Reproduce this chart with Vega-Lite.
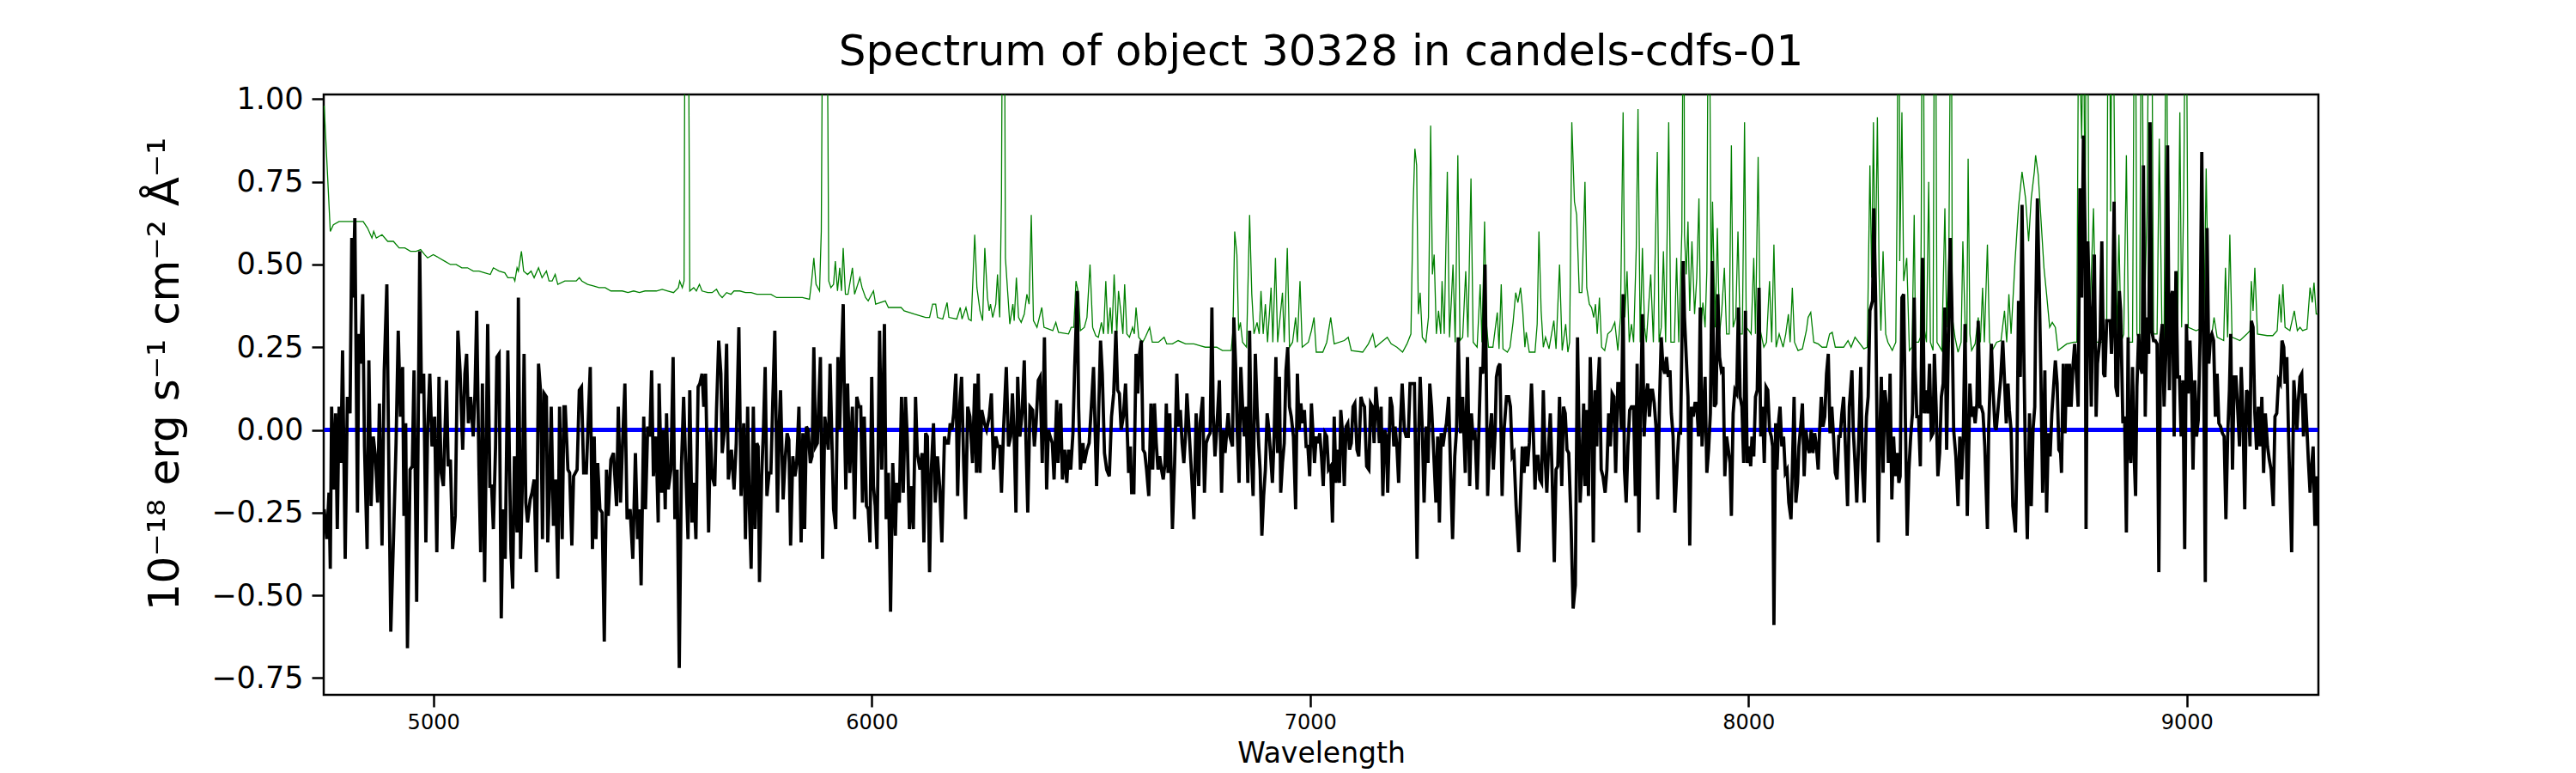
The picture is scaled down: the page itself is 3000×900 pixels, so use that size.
{
"$schema":"https://vega.github.io/schema/vega-lite/v6.json",
"width":2323,"height":699,
"autosize":{"type":"none"},
"padding":{"left":377,"top":110,"right":300,"bottom":91},
"background":"white",
"config":{"view":{"stroke":"black","strokeWidth":2.5},"font":"DejaVu Sans",
"axis":{"domain":false,"grid":false,"tickColor":"black","labelColor":"black","titleColor":"black","tickWidth":2.5,"tickSize":14,"labelFont":"DejaVu Sans","titleFont":"DejaVu Sans","titleFontWeight":"normal"}},
"title":{"text":"Spectrum of object 30328 in candels-cdfs-01","fontSize":50,"fontWeight":"normal","font":"DejaVu Sans","color":"black","offset":12},
"encoding":{
"x":{"field":"w","type":"quantitative","scale":{"domain":[4750,9300],"nice":false,"zero":false},"axis":{"values":[5000,6000,7000,8000,9000],"format":"d","labelFontSize":24,"labelPadding":6,"title":"Wavelength","titleFontSize":33,"titlePadding":8}},
"y":{"field":"f","type":"quantitative","scale":{"domain":[-0.801,1.014],"nice":false,"zero":false},"axis":{"values":[-0.75,-0.5,-0.25,0,0.25,0.5,0.75,1.0],"format":".2f","labelFontSize":35,"labelPadding":10,"title":"10⁻¹⁸ erg s⁻¹ cm⁻² Å⁻¹","titleFontSize":50,"titlePadding":28,"titleY":325}}
},
"datasets":{
"model":[{"w":4751,"f":0},{"w":9299,"f":0}],
"err":[
{"w":4751,"f":0.98},{"w":4765,"f":0.60},{"w":4772,"f":0.62},{"w":4785,"f":0.63},{"w":4804,"f":0.63},{"w":4824,"f":0.63},{"w":4840,"f":0.63},{"w":4850,"f":0.61},{"w":4860,"f":0.58},{"w":4864,"f":0.60},{"w":4870,"f":0.58},{"w":4883,"f":0.59},{"w":4896,"f":0.57},{"w":4909,"f":0.57},{"w":4922,"f":0.55},{"w":4935,"f":0.55},{"w":4948,"f":0.54},{"w":4961,"f":0.54},{"w":4971,"f":0.545},{"w":4980,"f":0.53},{"w":4987,"f":0.52},{"w":5000,"f":0.53},{"w":5013,"f":0.52},{"w":5026,"f":0.51},{"w":5039,"f":0.50},{"w":5052,"f":0.50},{"w":5065,"f":0.49},{"w":5078,"f":0.49},{"w":5091,"f":0.48},{"w":5104,"f":0.48},{"w":5117,"f":0.475},{"w":5130,"f":0.47},{"w":5137,"f":0.49},{"w":5150,"f":0.48},{"w":5163,"f":0.475},{"w":5170,"f":0.46},{"w":5183,"f":0.46},{"w":5186,"f":0.45},{"w":5191,"f":0.49},{"w":5194,"f":0.48},{"w":5201,"f":0.54},{"w":5206,"f":0.48},{"w":5215,"f":0.47},{"w":5223,"f":0.48},{"w":5230,"f":0.46},{"w":5240,"f":0.49},{"w":5248,"f":0.46},{"w":5258,"f":0.48},{"w":5264,"f":0.45},{"w":5271,"f":0.45},{"w":5278,"f":0.47},{"w":5284,"f":0.44},{"w":5300,"f":0.45},{"w":5313,"f":0.45},{"w":5326,"f":0.45},{"w":5333,"f":0.46},{"w":5339,"f":0.45},{"w":5352,"f":0.44},{"w":5365,"f":0.435},{"w":5378,"f":0.43},{"w":5392,"f":0.43},{"w":5405,"f":0.42},{"w":5431,"f":0.42},{"w":5444,"f":0.415},{"w":5457,"f":0.42},{"w":5470,"f":0.415},{"w":5483,"f":0.42},{"w":5496,"f":0.42},{"w":5509,"f":0.42},{"w":5522,"f":0.425},{"w":5535,"f":0.42},{"w":5548,"f":0.415},{"w":5559,"f":0.43},{"w":5562,"f":0.45},{"w":5568,"f":0.43},{"w":5572,"f":0.45},{"w":5574,"f":1.3},{"w":5582,"f":1.3},{"w":5585,"f":0.42},{"w":5594,"f":0.43},{"w":5600,"f":0.42},{"w":5607,"f":0.44},{"w":5613,"f":0.42},{"w":5626,"f":0.415},{"w":5636,"f":0.415},{"w":5646,"f":0.425},{"w":5652,"f":0.41},{"w":5659,"f":0.40},{"w":5669,"f":0.415},{"w":5679,"f":0.41},
{"w":5686,"f":0.42},{"w":5699,"f":0.42},{"w":5712,"f":0.415},{"w":5725,"f":0.415},{"w":5738,"f":0.41},{"w":5751,"f":0.41},{"w":5770,"f":0.41},{"w":5783,"f":0.40},{"w":5803,"f":0.40},{"w":5823,"f":0.40},{"w":5842,"f":0.40},{"w":5858,"f":0.395},{"w":5863,"f":0.45},{"w":5868,"f":0.52},{"w":5873,"f":0.44},{"w":5881,"f":0.42},{"w":5885,"f":0.6},{"w":5888,"f":1.3},{"w":5898,"f":1.3},{"w":5900,"f":0.95},{"w":5902,"f":0.45},{"w":5907,"f":0.43},{"w":5913,"f":0.44},{"w":5917,"f":0.51},{"w":5922,"f":0.42},{"w":5927,"f":0.49},{"w":5931,"f":0.42},{"w":5935,"f":0.55},{"w":5940,"f":0.41},{"w":5946,"f":0.41},{"w":5956,"f":0.49},{"w":5961,"f":0.41},{"w":5973,"f":0.46},{"w":5978,"f":0.43},{"w":5986,"f":0.40},{"w":5992,"f":0.39},{"w":6004,"f":0.42},{"w":6009,"f":0.38},{"w":6031,"f":0.39},{"w":6038,"f":0.37},{"w":6057,"f":0.37},{"w":6067,"f":0.37},{"w":6074,"f":0.36},{"w":6097,"f":0.35},{"w":6123,"f":0.34},{"w":6132,"f":0.34},{"w":6139,"f":0.38},{"w":6146,"f":0.38},{"w":6150,"f":0.34},{"w":6162,"f":0.335},{"w":6172,"f":0.385},{"w":6176,"f":0.34},{"w":6194,"f":0.335},{"w":6202,"f":0.37},{"w":6206,"f":0.335},{"w":6215,"f":0.37},{"w":6221,"f":0.335},{"w":6227,"f":0.33},{"w":6235,"f":0.59},{"w":6240,"f":0.43},{"w":6247,"f":0.36},{"w":6253,"f":0.33},{"w":6258,"f":0.55},{"w":6264,"f":0.40},{"w":6268,"f":0.36},{"w":6271,"f":0.38},{"w":6276,"f":0.34},{"w":6283,"f":0.38},{"w":6287,"f":0.47},{"w":6292,"f":0.34},{"w":6296,"f":0.7},{"w":6298,"f":1.3},{"w":6303,"f":1.3},{"w":6305,"f":0.52},{"w":6311,"f":0.40},{"w":6315,"f":0.32},{"w":6322,"f":0.38},{"w":6325,"f":0.33},{"w":6330,"f":0.46},{"w":6335,"f":0.34},{"w":6341,"f":0.325},{"w":6348,"f":0.35},{"w":6354,"f":0.41},{"w":6359,"f":0.38},{"w":6364,"f":0.65},{"w":6369,"f":0.33},{"w":6377,"f":0.31},{"w":6388,"f":0.37},{"w":6393,"f":0.31},{"w":6413,"f":0.30},{"w":6420,"f":0.325},{"w":6426,"f":0.295},{"w":6449,"f":0.29},{"w":6455,"f":0.31},{"w":6461,"f":0.31},{"w":6466,"f":0.45},{"w":6472,"f":0.41},{"w":6476,"f":0.30},{"w":6485,"f":0.31},{"w":6491,"f":0.34},{"w":6498,"f":0.50},{"w":6504,"f":0.31},{"w":6511,"f":0.285},{"w":6517,"f":0.28},{"w":6524,"f":0.325},{"w":6529,"f":0.29},{"w":6534,"f":0.45},{"w":6539,"f":0.29},{"w":6544,"f":0.37},{"w":6548,"f":0.29},{"w":6553,"f":0.47},{"w":6559,"f":0.29},{"w":6563,"f":0.42},{"w":6568,"f":0.36},{"w":6573,"f":0.29},{"w":6577,"f":0.44},
{"w":6582,"f":0.29},{"w":6588,"f":0.28},{"w":6595,"f":0.31},{"w":6599,"f":0.29},{"w":6603,"f":0.37},{"w":6609,"f":0.28},{"w":6618,"f":0.265},{"w":6624,"f":0.28},{"w":6634,"f":0.31},{"w":6640,"f":0.265},{"w":6654,"f":0.265},{"w":6667,"f":0.28},{"w":6673,"f":0.26},{"w":6686,"f":0.26},{"w":6699,"f":0.27},{"w":6716,"f":0.26},{"w":6735,"f":0.26},{"w":6748,"f":0.255},{"w":6761,"f":0.25},{"w":6787,"f":0.25},{"w":6800,"f":0.24},{"w":6820,"f":0.24},{"w":6824,"f":0.3},{"w":6828,"f":0.60},{"w":6833,"f":0.53},{"w":6837,"f":0.30},{"w":6841,"f":0.325},{"w":6846,"f":0.265},{"w":6855,"f":0.25},{"w":6862,"f":0.65},{"w":6867,"f":0.41},{"w":6872,"f":0.29},{"w":6879,"f":0.325},{"w":6884,"f":0.29},{"w":6888,"f":0.42},{"w":6893,"f":0.29},{"w":6898,"f":0.38},{"w":6903,"f":0.265},{"w":6911,"f":0.43},{"w":6915,"f":0.265},{"w":6921,"f":0.52},{"w":6926,"f":0.265},{"w":6937,"f":0.415},{"w":6941,"f":0.265},{"w":6948,"f":0.55},{"w":6953,"f":0.25},{"w":6960,"f":0.265},{"w":6967,"f":0.34},{"w":6971,"f":0.265},{"w":6977,"f":0.45},{"w":6982,"f":0.25},{"w":6996,"f":0.265},{"w":7003,"f":0.30},{"w":7009,"f":0.34},{"w":7014,"f":0.235},{"w":7029,"f":0.235},{"w":7038,"f":0.265},{"w":7047,"f":0.34},{"w":7055,"f":0.26},{"w":7078,"f":0.27},{"w":7087,"f":0.28},{"w":7094,"f":0.24},{"w":7120,"f":0.235},{"w":7133,"f":0.26},{"w":7143,"f":0.29},{"w":7149,"f":0.25},{"w":7162,"f":0.265},{"w":7176,"f":0.28},{"w":7185,"f":0.26},{"w":7198,"f":0.25},{"w":7211,"f":0.235},{"w":7221,"f":0.26},{"w":7230,"f":0.29},{"w":7235,"f":0.675},{"w":7239,"f":0.85},{"w":7243,"f":0.80},{"w":7247,"f":0.35},{"w":7251,"f":0.415},{"w":7256,"f":0.28},{"w":7264,"f":0.265},{"w":7270,"f":0.34},{"w":7275,"f":0.92},{"w":7279,"f":0.47},{"w":7283,"f":0.53},{"w":7288,"f":0.29},{"w":7293,"f":0.36},{"w":7298,"f":0.29},{"w":7301,"f":0.45},{"w":7306,"f":0.29},{"w":7313,"f":0.78},{"w":7318,"f":0.28},{"w":7322,"f":0.385},{"w":7326,"f":0.50},{"w":7331,"f":0.265},{"w":7337,"f":0.83},{"w":7342,"f":0.27},{"w":7348,"f":0.28},{"w":7355,"f":0.48},{"w":7360,"f":0.28},{"w":7367,"f":0.76},{"w":7372,"f":0.265},{"w":7381,"f":0.25},{"w":7388,"f":0.44},{"w":7392,"f":0.265},{"w":7398,"f":0.63},{"w":7402,"f":0.325},{"w":7407,"f":0.25},{"w":7417,"f":0.25},{"w":7427,"f":0.355},{"w":7431,"f":0.245},{"w":7436,"f":0.44},{"w":7440,"f":0.245},{"w":7450,"f":0.235},{"w":7456,"f":0.25},{"w":7463,"f":0.325},{"w":7469,"f":0.415},{"w":7474,"f":0.385},
{"w":7480,"f":0.43},{"w":7485,"f":0.36},{"w":7490,"f":0.25},{"w":7493,"f":0.295},{"w":7500,"f":0.235},{"w":7513,"f":0.235},{"w":7518,"f":0.32},{"w":7522,"f":0.60},{"w":7527,"f":0.36},{"w":7532,"f":0.25},{"w":7537,"f":0.28},{"w":7545,"f":0.245},{"w":7556,"f":0.33},{"w":7561,"f":0.245},{"w":7569,"f":0.50},{"w":7575,"f":0.24},{"w":7583,"f":0.32},{"w":7588,"f":0.235},{"w":7592,"f":0.265},{"w":7597,"f":0.93},{"w":7603,"f":0.69},{"w":7608,"f":0.65},{"w":7614,"f":0.415},{"w":7620,"f":0.415},{"w":7627,"f":0.75},{"w":7631,"f":0.43},{"w":7637,"f":0.38},{"w":7642,"f":0.37},{"w":7647,"f":0.34},{"w":7651,"f":0.38},{"w":7655,"f":0.29},{"w":7660,"f":0.40},{"w":7665,"f":0.25},{"w":7672,"f":0.24},{"w":7679,"f":0.29},{"w":7687,"f":0.30},{"w":7695,"f":0.325},{"w":7702,"f":0.24},{"w":7708,"f":0.34},{"w":7714,"f":0.96},{"w":7718,"f":0.34},{"w":7723,"f":0.48},{"w":7728,"f":0.265},{"w":7733,"f":0.32},{"w":7738,"f":0.265},{"w":7744,"f":0.55},{"w":7748,"f":0.97},{"w":7753,"f":0.265},{"w":7758,"f":0.55},{"w":7763,"f":0.31},{"w":7767,"f":0.265},{"w":7772,"f":0.37},{"w":7777,"f":0.47},{"w":7783,"f":0.265},{"w":7792,"f":0.84},{"w":7796,"f":0.265},{"w":7801,"f":0.31},{"w":7806,"f":0.54},{"w":7811,"f":0.265},{"w":7818,"f":0.93},{"w":7823,"f":0.265},{"w":7831,"f":0.265},{"w":7836,"f":0.52},{"w":7841,"f":0.265},{"w":7848,"f":0.6},{"w":7851,"f":1.3},{"w":7853,"f":1.3},{"w":7854,"f":0.59},{"w":7858,"f":0.47},{"w":7862,"f":0.63},{"w":7866,"f":0.36},{"w":7871,"f":0.57},{"w":7877,"f":0.35},{"w":7882,"f":0.46},{"w":7887,"f":0.70},{"w":7891,"f":0.29},{"w":7896,"f":0.385},{"w":7901,"f":0.31},{"w":7905,"f":0.48},{"w":7908,"f":1.3},{"w":7911,"f":1.3},{"w":7915,"f":0.37},{"w":7918,"f":0.69},{"w":7924,"f":0.31},{"w":7929,"f":0.61},{"w":7934,"f":0.29},{"w":7939,"f":0.36},{"w":7945,"f":0.49},{"w":7950,"f":0.29},{"w":7956,"f":0.29},{"w":7961,"f":0.86},{"w":7965,"f":0.31},{"w":7971,"f":0.34},{"w":7976,"f":0.60},{"w":7981,"f":0.29},{"w":7986,"f":0.29},{"w":7991,"f":0.93},{"w":7995,"f":0.31},{"w":8001,"f":0.30},{"w":8006,"f":0.29},{"w":8012,"f":0.52},{"w":8016,"f":0.29},{"w":8022,"f":0.825},{"w":8027,"f":0.30},{"w":8035,"f":0.25},{"w":8041,"f":0.265},{"w":8048,"f":0.45},{"w":8053,"f":0.265},{"w":8058,"f":0.56},{"w":8063,"f":0.25},{"w":8070,"f":0.29},{"w":8079,"f":0.25},{"w":8085,"f":0.29},{"w":8091,"f":0.35},{"w":8095,"f":0.265},{"w":8100,"f":0.43},{"w":8105,"f":0.265},{"w":8113,"f":0.24},{"w":8123,"f":0.245},{"w":8132,"f":0.30},{"w":8136,"f":0.34},{"w":8142,"f":0.355},{"w":8149,"f":0.265},{"w":8159,"f":0.26},{"w":8168,"f":0.25},{"w":8178,"f":0.25},{"w":8185,"f":0.29},{"w":8191,"f":0.295},{"w":8198,"f":0.25},{"w":8217,"f":0.25},{"w":8227,"f":0.27},{"w":8234,"f":0.25},{"w":8243,"f":0.28},{"w":8263,"f":0.245},{"w":8271,"f":0.25},{"w":8277,"f":0.80},{"w":8281,"f":0.46},{"w":8285,"f":0.93},{"w":8289,"f":0.43},{"w":8294,"f":0.945},{"w":8298,"f":0.47},{"w":8302,"f":0.30},{"w":8307,"f":0.54},{"w":8313,"f":0.29},{"w":8318,"f":0.265},{"w":8328,"f":0.24},{"w":8336,"f":0.265},{"w":8339,"f":0.7},{"w":8341,"f":1.3},{"w":8344,"f":1.3},{"w":8345,"f":0.51},{"w":8350,"f":0.96},{"w":8354,"f":0.45},{"w":8361,"f":0.52},{"w":8367,"f":0.24},{"w":8373,"f":0.25},{"w":8378,"f":0.65},
{"w":8381,"f":0.265},{"w":8388,"f":0.265},{"w":8392,"f":0.28},{"w":8394,"f":0.6},{"w":8396,"f":1.3},{"w":8399,"f":1.3},{"w":8402,"f":0.3},{"w":8406,"f":0.265},{"w":8411,"f":0.75},{"w":8415,"f":0.265},{"w":8421,"f":0.24},{"w":8424,"f":1.3},{"w":8427,"f":1.3},{"w":8430,"f":0.265},{"w":8441,"f":0.24},{"w":8448,"f":0.67},{"w":8452,"f":0.31},{"w":8457,"f":0.52},{"w":8461,"f":1.3},{"w":8463,"f":1.3},{"w":8465,"f":0.34},{"w":8471,"f":0.28},{"w":8478,"f":0.235},{"w":8485,"f":0.265},{"w":8489,"f":0.57},{"w":8494,"f":0.325},{"w":8498,"f":0.265},{"w":8501,"f":0.82},{"w":8505,"f":0.29},{"w":8509,"f":0.24},{"w":8517,"f":0.26},{"w":8524,"f":0.34},{"w":8529,"f":0.265},{"w":8534,"f":0.43},{"w":8538,"f":0.265},{"w":8545,"f":0.56},{"w":8550,"f":0.265},{"w":8556,"f":0.24},{"w":8566,"f":0.265},{"w":8576,"f":0.27},{"w":8584,"f":0.36},{"w":8589,"f":0.265},{"w":8594,"f":0.41},{"w":8599,"f":0.29},{"w":8608,"f":0.51},{"w":8616,"f":0.675},{"w":8624,"f":0.78},{"w":8632,"f":0.70},{"w":8639,"f":0.57},{"w":8645,"f":0.70},{"w":8652,"f":0.78},{"w":8655,"f":0.83},{"w":8661,"f":0.77},{"w":8667,"f":0.64},{"w":8674,"f":0.49},{"w":8680,"f":0.41},{"w":8687,"f":0.31},{"w":8693,"f":0.325},{"w":8700,"f":0.31},{"w":8706,"f":0.24},{"w":8726,"f":0.26},{"w":8742,"f":0.265},{"w":8749,"f":0.265},{"w":8753,"f":1.3},{"w":8760,"f":0.88},{"w":8764,"f":1.3},{"w":8768,"f":0.6},{"w":8770,"f":1.3},{"w":8774,"f":1.3},{"w":8777,"f":0.265},{"w":8782,"f":0.47},{"w":8787,"f":0.67},{"w":8793,"f":0.265},{"w":8811,"f":0.265},{"w":8817,"f":0.265},{"w":8820,"f":1.3},{"w":8824,"f":1.3},{"w":8826,"f":0.66},{"w":8829,"f":1.3},{"w":8832,"f":1.3},{"w":8836,"f":0.67},{"w":8839,"f":0.265},{"w":8845,"f":0.59},{"w":8850,"f":0.265},{"w":8856,"f":0.29},{"w":8862,"f":0.83},{"w":8867,"f":0.265},{"w":8876,"f":0.265},{"w":8880,"f":1.3},{"w":8883,"f":1.3},{"w":8886,"f":0.29},{"w":8892,"f":0.265},{"w":8896,"f":1.3},{"w":8898,"f":1.3},{"w":8902,"f":0.265},{"w":8909,"f":0.66},{"w":8913,"f":1.3},{"w":8920,"f":1.3},{"w":8924,"f":0.29},{"w":8932,"f":0.29},{"w":8937,"f":0.88},{"w":8943,"f":0.31},{"w":8948,"f":0.265},{"w":8952,"f":1.3},{"w":8954,"f":1.3},{"w":8957,"f":0.31},{"w":8963,"f":0.35},{"w":8970,"f":0.31},{"w":8979,"f":0.31},{"w":8984,"f":0.96},{"w":8988,"f":0.31},{"w":8993,"f":0.73},{"w":8996,"f":1.3},{"w":8999,"f":1.3},{"w":9003,"f":0.31},{"w":9021,"f":0.30},{"w":9039,"f":0.31},{"w":9044,"f":0.79},{"w":9050,"f":0.29},{"w":9056,"f":0.28},{"w":9062,"f":0.34},{"w":9069,"f":0.28},{"w":9084,"f":0.27},{"w":9088,"f":0.49},{"w":9093,"f":0.28},{"w":9098,"f":0.59},{"w":9103,"f":0.28},{"w":9121,"f":0.27},{"w":9137,"f":0.29},{"w":9144,"f":0.30},{"w":9147,"f":0.45},{"w":9151,"f":0.36},{"w":9155,"f":0.49},{"w":9161,"f":0.29},{"w":9183,"f":0.285},{"w":9196,"f":0.285},{"w":9206,"f":0.30},{"w":9211,"f":0.41},{"w":9215,"f":0.325},{"w":9219,"f":0.44},{"w":9224,"f":0.31},{"w":9235,"f":0.30},{"w":9245,"f":0.36},{"w":9252,"f":0.30},{"w":9258,"f":0.31},{"w":9264,"f":0.30},{"w":9274,"f":0.305},{"w":9281,"f":0.43},{"w":9286,"f":0.385},{"w":9290,"f":0.445},{"w":9295,"f":0.35},{"w":9299,"f":0.35}
],
"flux":[
{"w":4751,"f":-0.24},{"w":4757,"f":-0.33},{"w":4762,"f":-0.19},{"w":4765,"f":-0.42},{"w":4768,"f":0.07},{"w":4773,"f":-0.18},{"w":4777,"f":0.05},{"w":4781,"f":-0.30},{"w":4785,"f":0.07},{"w":4789,"f":-0.10},{"w":4793,"f":0.24},{"w":4799,"f":-0.39},{"w":4804,"f":0.10},{"w":4810,"f":0.05},{"w":4814,"f":0.58},{"w":4817,"f":0.40},{"w":4821,"f":0.64},{"w":4827,"f":-0.25},{"w":4830,"f":0.29},{"w":4834,"f":0.20},{"w":4839,"f":0.41},{"w":4843,"f":-0.05},{"w":4849,"f":-0.36},{"w":4853,"f":0.21},{"w":4858,"f":-0.23},{"w":4863,"f":-0.02},{"w":4868,"f":-0.08},{"w":4873,"f":-0.22},{"w":4877,"f":0.08},{"w":4883,"f":-0.35},{"w":4888,"f":0.18},{"w":4894,"f":0.44},{"w":4899,"f":-0.17},{"w":4903,"f":-0.61},{"w":4910,"f":-0.29},{"w":4915,"f":-0.04},{"w":4920,"f":0.30},{"w":4925,"f":0.04},{"w":4930,"f":0.19},{"w":4933,"f":-0.26},{"w":4937,"f":0.02},{"w":4941,"f":-0.66},{"w":4947,"f":-0.12},{"w":4952,"f":-0.11},{"w":4956,"f":0.18},{"w":4962,"f":-0.52},{"w":4969,"f":0.54},{"w":4973,"f":0.11},{"w":4978,"f":0.17},{"w":4983,"f":-0.34},{"w":4987,"f":0},{"w":4992,"f":0.17},{"w":4997,"f":-0.05},{"w":5003,"f":0.04},{"w":5008,"f":-0.37},{"w":5013,"f":0.16},{"w":5018,"f":-0.13},{"w":5023,"f":-0.17},{"w":5030,"f":0.15},{"w":5034,"f":-0.11},{"w":5039,"f":-0.09},{"w":5044,"f":-0.36},{"w":5050,"f":-0.26},{"w":5056,"f":0.30},{"w":5061,"f":0.18},{"w":5067,"f":-0.06},{"w":5072,"f":0.17},{"w":5076,"f":0.23},{"w":5080,"f":0.02},{"w":5085,"f":0.10},{"w":5091,"f":-0.02},{"w":5095,"f":0.11},{"w":5099,"f":0.36},{"w":5104,"f":-0.11},{"w":5108,"f":-0.37},{"w":5112,"f":0.14},{"w":5117,"f":-0.46},{"w":5124,"f":0.32},{"w":5129,"f":-0.17},{"w":5133,"f":-0.17},{"w":5137,"f":-0.30},{"w":5142,"f":-0.05},{"w":5145,"f":0.22},{"w":5150,"f":0.23},{"w":5155,"f":-0.57},{"w":5159,"f":-0.24},{"w":5164,"f":-0.39},{"w":5170,"f":0.24},{"w":5174,"f":-0.12},{"w":5177,"f":-0.36},{"w":5181,"f":-0.48},{"w":5185,"f":-0.08},{"w":5191,"f":-0.31},{"w":5194,"f":0.40},{"w":5199,"f":-0.39},{"w":5204,"f":-0.11},{"w":5207,"f":0.23},{"w":5211,"f":-0.22},{"w":5215,"f":-0.28},{"w":5221,"f":-0.21},{"w":5225,"f":-0.19},{"w":5230,"f":-0.15},{"w":5235,"f":-0.43},{"w":5240,"f":0.20},{"w":5245,"f":0.11},{"w":5249,"f":-0.33},{"w":5253,"f":0.11},{"w":5258,"f":0.10},{"w":5261,"f":-0.34},{"w":5265,"f":-0.18},{"w":5269,"f":0.07},{"w":5274,"f":-0.29},{"w":5279,"f":-0.15},{"w":5284,"f":-0.45},{"w":5288,"f":0.07},{"w":5294,"f":-0.33},{"w":5298,"f":0.07},{"w":5301,"f":0.07},{"w":5307,"f":-0.12},{"w":5311,"f":-0.13},{"w":5316,"f":-0.35},{"w":5320,"f":-0.14},{"w":5324,"f":-0.13},{"w":5328,"f":-0.12},{"w":5333,"f":0.12},{"w":5338,"f":0.13},{"w":5343,"f":-0.13},{"w":5349,"f":-0.13},{"w":5352,"f":-0.02},{"w":5358,"f":0.19},{"w":5363,"f":-0.36},{"w":5367,"f":-0.02},{"w":5371,"f":-0.33},{"w":5375,"f":-0.10},{"w":5380,"f":-0.24},{"w":5385,"f":-0.25},{"w":5390,"f":-0.64},{"w":5395,"f":-0.12},{"w":5399,"f":-0.26},{"w":5405,"f":-0.09},{"w":5411,"f":-0.07},{"w":5418,"f":-0.23},{"w":5422,"f":0.07},{"w":5427,"f":-0.22},{"w":5432,"f":-0.03},{"w":5437,"f":0.14},{"w":5442,"f":-0.27},{"w":5449,"f":-0.24},{"w":5455,"f":-0.39},{"w":5461,"f":-0.07},{"w":5466,"f":-0.33},{"w":5470,"f":-0.24},{"w":5474,"f":-0.47},{"w":5480,"f":0.04},{"w":5484,"f":-0.24},{"w":5489,"f":0.01},{"w":5494,"f":-0.02},{"w":5498,"f":0.18},{"w":5502,"f":-0.14},{"w":5508,"f":-0.02},{"w":5513,"f":-0.28},{"w":5515,"f":0.14},{"w":5521,"f":-0.19},{"w":5525,"f":0},{"w":5529,"f":-0.24},{"w":5532,"f":0.05},{"w":5536,"f":-0.18},{"w":5542,"f":-0.12},{"w":5547,"f":0.22},{"w":5551,"f":-0.27},{"w":5556,"f":-0.12},{"w":5561,"f":-0.72},{"w":5566,"f":-0.11},{"w":5571,"f":0.10},{"w":5576,"f":-0.12},{"w":5581,"f":-0.33},{"w":5585,"f":0.12},{"w":5590,"f":-0.28},{"w":5594,"f":-0.16},{"w":5599,"f":-0.33},{"w":5604,"f":0.13},{"w":5608,"f":0.14},{"w":5613,"f":0.17},{"w":5617,"f":0.07},{"w":5621,"f":0.17},{"w":5628,"f":-0.31},{"w":5632,"f":0},{"w":5636,"f":-0.14},{"w":5642,"f":-0.17},{"w":5646,"f":0.06},{"w":5651,"f":0.27},{"w":5656,"f":0.17},{"w":5659,"f":-0.07},{"w":5664,"f":0},{"w":5669,"f":0.26},{"w":5673,"f":-0.15},
{"w":5680,"f":-0.06},{"w":5686,"f":-0.18},{"w":5691,"f":-0.04},{"w":5697,"f":0.31},{"w":5702,"f":-0.20},{"w":5708,"f":0.02},{"w":5712,"f":-0.33},{"w":5717,"f":0.07},{"w":5721,"f":-0.24},{"w":5725,"f":-0.42},{"w":5730,"f":0.07},{"w":5734,"f":-0.30},{"w":5738,"f":-0.04},{"w":5741,"f":-0.05},{"w":5744,"f":-0.46},{"w":5749,"f":-0.14},{"w":5753,"f":0},{"w":5757,"f":0.19},{"w":5761,"f":-0.20},{"w":5766,"f":-0.13},{"w":5770,"f":-0.13},{"w":5774,"f":0.07},{"w":5779,"f":0.30},{"w":5785,"f":-0.25},{"w":5789,"f":0.01},{"w":5792,"f":0.12},{"w":5798,"f":-0.21},{"w":5802,"f":-0.10},{"w":5807,"f":-0.01},{"w":5811,"f":-0.03},{"w":5815,"f":-0.35},{"w":5820,"f":-0.08},{"w":5825,"f":-0.14},{"w":5829,"f":-0.10},{"w":5834,"f":0.07},{"w":5839,"f":-0.34},{"w":5843,"f":-0.01},{"w":5847,"f":-0.30},{"w":5851,"f":0.01},{"w":5855,"f":0},{"w":5860,"f":-0.10},{"w":5864,"f":-0.08},{"w":5868,"f":0.25},{"w":5872,"f":-0.05},{"w":5876,"f":-0.04},{"w":5883,"f":0.22},{"w":5888,"f":-0.39},{"w":5893,"f":0.04},{"w":5898,"f":-0.02},{"w":5901,"f":-0.06},{"w":5905,"f":0.20},{"w":5909,"f":-0.02},{"w":5913,"f":-0.24},{"w":5918,"f":-0.30},{"w":5923,"f":0.22},{"w":5927,"f":0},{"w":5931,"f":0.22},{"w":5935,"f":0.38},{"w":5939,"f":-0.05},{"w":5941,"f":-0.18},{"w":5945,"f":0.14},{"w":5950,"f":-0.13},{"w":5956,"f":0.07},{"w":5961,"f":-0.27},{"w":5966,"f":0.10},{"w":5971,"f":0.07},{"w":5975,"f":0.07},{"w":5979,"f":-0.22},{"w":5983,"f":0.04},{"w":5988,"f":-0.23},{"w":5992,"f":-0.24},{"w":5996,"f":-0.34},{"w":6000,"f":0.16},{"w":6004,"f":-0.17},{"w":6008,"f":-0.23},{"w":6012,"f":-0.36},{"w":6018,"f":0.30},{"w":6023,"f":-0.12},{"w":6029,"f":0.32},{"w":6033,"f":-0.27},{"w":6038,"f":-0.13},{"w":6043,"f":-0.55},{"w":6048,"f":-0.10},{"w":6054,"f":-0.32},{"w":6057,"f":-0.16},{"w":6063,"f":-0.22},{"w":6068,"f":0.10},{"w":6072,"f":-0.19},{"w":6077,"f":0.10},{"w":6081,"f":-0.02},{"w":6086,"f":-0.30},{"w":6091,"f":-0.17},{"w":6095,"f":-0.30},{"w":6100,"f":0.10},{"w":6104,"f":-0.07},{"w":6110,"f":-0.12},{"w":6115,"f":-0.07},{"w":6119,"f":-0.34},{"w":6123,"f":-0.01},{"w":6127,"f":-0.02},{"w":6132,"f":-0.43},{"w":6136,"f":-0.12},{"w":6141,"f":0.02},{"w":6145,"f":-0.22},{"w":6150,"f":-0.08},{"w":6155,"f":-0.17},{"w":6160,"f":-0.34},{"w":6166,"f":-0.02},{"w":6170,"f":-0.04},{"w":6175,"f":-0.04},{"w":6179,"f":0.02},{"w":6183,"f":0},{"w":6187,"f":0.05},{"w":6192,"f":0.17},{"w":6196,"f":-0.20},{"w":6201,"f":0.08},{"w":6205,"f":0.16},{"w":6210,"f":-0.11},{"w":6214,"f":-0.27},{"w":6219,"f":0.07},{"w":6224,"f":0.04},{"w":6230,"f":-0.10},{"w":6235,"f":0.14},{"w":6239,"f":-0.13},{"w":6243,"f":0.17},{"w":6247,"f":-0.13},{"w":6251,"f":0.06},{"w":6257,"f":0.02},{"w":6262,"f":0},{"w":6268,"f":0.04},{"w":6273,"f":0.11},{"w":6278,"f":-0.12},{"w":6283,"f":-0.02},{"w":6288,"f":-0.05},{"w":6292,"f":-0.05},{"w":6296,"f":-0.19},{"w":6301,"f":0.01},{"w":6307,"f":0.19},{"w":6312,"f":-0.05},{"w":6317,"f":-0.02},{"w":6321,"f":0.11},{"w":6325,"f":-0.02},{"w":6329,"f":-0.25},{"w":6333,"f":0.16},{"w":6338,"f":-0.02},{"w":6343,"f":0.05},{"w":6348,"f":0.21},{"w":6352,"f":-0.04},{"w":6356,"f":-0.25},{"w":6361,"f":0.07},{"w":6367,"f":0.06},{"w":6371,"f":-0.05},{"w":6375,"f":0.02},{"w":6380,"f":0.15},{"w":6384,"f":0.16},{"w":6389,"f":-0.10},{"w":6394,"f":0.28},{"w":6399,"f":-0.18},{"w":6403,"f":0},{"w":6407,"f":-0.02},{"w":6412,"f":-0.04},{"w":6416,"f":-0.15},{"w":6422,"f":0.09},{"w":6425,"f":-0.10},{"w":6431,"f":0.08},{"w":6435,"f":-0.15},{"w":6440,"f":-0.06},{"w":6445,"f":-0.16},{"w":6449,"f":-0.06},{"w":6454,"f":-0.12},{"w":6459,"f":-0.01},{"w":6463,"f":0.19},{"w":6469,"f":0.42},{"w":6472,"f":0.07},{"w":6476,"f":-0.12},{"w":6482,"f":-0.04},{"w":6485,"f":-0.10},{"w":6491,"f":-0.06},{"w":6496,"f":-0.04},{"w":6501,"f":0.07},{"w":6506,"f":0.19},{"w":6513,"f":-0.17},{"w":6517,"f":0.02},{"w":6522,"f":0.27},{"w":6526,"f":0.17},{"w":6531,"f":-0.07},{"w":6536,"f":-0.12},{"w":6542,"f":-0.14},{"w":6547,"f":0.04},{"w":6552,"f":0.11},{"w":6557,"f":0.30},{"w":6561,"f":0.12},{"w":6565,"f":0.11},{"w":6569,"f":0},{"w":6574,"f":0.04},{"w":6579,"f":0.14},
{"w":6582,"f":0.03},{"w":6586,"f":-0.13},{"w":6590,"f":-0.05},{"w":6593,"f":-0.19},{"w":6598,"f":-0.19},{"w":6603,"f":0.23},{"w":6607,"f":0.11},{"w":6611,"f":0.23},{"w":6615,"f":0.27},{"w":6619,"f":-0.06},{"w":6623,"f":-0.07},{"w":6627,"f":-0.12},{"w":6632,"f":-0.20},{"w":6637,"f":0.08},{"w":6641,"f":-0.12},{"w":6645,"f":0.08},{"w":6649,"f":-0.04},{"w":6653,"f":-0.12},{"w":6657,"f":-0.08},{"w":6661,"f":-0.12},{"w":6665,"f":-0.15},{"w":6669,"f":-0.10},{"w":6672,"f":0.08},{"w":6676,"f":-0.13},{"w":6680,"f":0.05},{"w":6686,"f":-0.30},{"w":6691,"f":-0.10},{"w":6696,"f":0.17},{"w":6700,"f":0.01},{"w":6704,"f":0.06},{"w":6708,"f":-0.04},{"w":6712,"f":-0.10},{"w":6716,"f":-0.01},{"w":6719,"f":0.11},{"w":6723,"f":0.02},{"w":6729,"f":-0.12},{"w":6735,"f":-0.27},{"w":6740,"f":0.05},{"w":6746,"f":-0.17},{"w":6749,"f":0.02},{"w":6755,"f":0.10},{"w":6759,"f":-0.19},{"w":6763,"f":-0.04},{"w":6768,"f":-0.02},{"w":6772,"f":-0.01},{"w":6776,"f":0.37},{"w":6779,"f":0.05},{"w":6783,"f":-0.08},{"w":6787,"f":0},{"w":6793,"f":0.15},{"w":6798,"f":-0.19},{"w":6802,"f":0},{"w":6806,"f":-0.07},{"w":6809,"f":-0.02},{"w":6813,"f":0.05},{"w":6817,"f":-0.02},{"w":6823,"f":-0.05},{"w":6826,"f":0.34},{"w":6830,"f":0.20},{"w":6834,"f":-0.01},{"w":6838,"f":-0.16},{"w":6842,"f":0.19},{"w":6846,"f":0.07},{"w":6850,"f":-0.02},{"w":6854,"f":0.07},{"w":6858,"f":-0.16},{"w":6862,"f":0.30},{"w":6866,"f":-0.07},{"w":6870,"f":-0.20},{"w":6875,"f":0.23},{"w":6879,"f":0.07},{"w":6883,"f":-0.05},{"w":6886,"f":-0.12},{"w":6890,"f":-0.32},{"w":6894,"f":-0.20},{"w":6898,"f":-0.12},{"w":6902,"f":0.05},{"w":6906,"f":0},{"w":6910,"f":-0.08},{"w":6914,"f":-0.16},{"w":6918,"f":-0.02},{"w":6922,"f":0.22},{"w":6926,"f":-0.07},{"w":6930,"f":0.16},{"w":6933,"f":-0.19},{"w":6937,"f":-0.10},{"w":6941,"f":-0.04},{"w":6945,"f":0.18},{"w":6949,"f":0.25},{"w":6953,"f":0.07},{"w":6957,"f":0.04},{"w":6962,"f":-0.02},{"w":6967,"f":-0.24},{"w":6971,"f":0.17},{"w":6975,"f":0},{"w":6979,"f":0.08},{"w":6983,"f":0.02},{"w":6987,"f":0.06},{"w":6991,"f":-0.05},{"w":6995,"f":-0.05},{"w":6999,"f":-0.14},{"w":7003,"f":0.08},{"w":7007,"f":-0.02},{"w":7010,"f":-0.10},{"w":7014,"f":-0.02},{"w":7018,"f":-0.04},{"w":7022,"f":-0.01},{"w":7026,"f":-0.08},{"w":7030,"f":-0.17},{"w":7034,"f":-0.01},{"w":7038,"f":-0.02},{"w":7042,"f":-0.12},{"w":7047,"f":-0.11},{"w":7051,"f":-0.28},{"w":7055,"f":0.04},{"w":7059,"f":-0.16},{"w":7063,"f":-0.06},{"w":7067,"f":-0.16},{"w":7070,"f":0.06},{"w":7074,"f":-0.01},{"w":7078,"f":-0.17},{"w":7082,"f":0.01},{"w":7086,"f":0.02},{"w":7090,"f":-0.06},{"w":7094,"f":-0.04},{"w":7098,"f":0.07},{"w":7102,"f":0.08},{"w":7107,"f":-0.06},{"w":7111,"f":-0.08},{"w":7116,"f":0.10},{"w":7120,"f":0.08},{"w":7124,"f":0.07},{"w":7129,"f":-0.11},{"w":7134,"f":-0.12},{"w":7138,"f":0.08},{"w":7142,"f":0.07},{"w":7146,"f":-0.04},{"w":7150,"f":0.13},{"w":7154,"f":0.06},{"w":7158,"f":-0.04},{"w":7162,"f":0.07},{"w":7166,"f":-0.20},{"w":7170,"f":0},{"w":7174,"f":-0.02},{"w":7177,"f":-0.19},{"w":7183,"f":0.10},{"w":7187,"f":0.07},{"w":7191,"f":-0.05},{"w":7194,"f":0.01},{"w":7198,"f":-0.05},{"w":7202,"f":-0.16},{"w":7206,"f":0.02},{"w":7210,"f":0.14},{"w":7215,"f":0},{"w":7219,"f":-0.02},{"w":7224,"f":-0.02},{"w":7228,"f":0.14},{"w":7234,"f":0.14},{"w":7238,"f":0.14},{"w":7244,"f":-0.39},{"w":7248,"f":0.01},{"w":7251,"f":0.16},{"w":7256,"f":0},{"w":7260,"f":-0.22},{"w":7265,"f":0.01},{"w":7269,"f":-0.10},{"w":7273,"f":0.14},{"w":7277,"f":0.07},{"w":7282,"f":-0.07},{"w":7287,"f":-0.22},{"w":7291,"f":-0.02},{"w":7295,"f":-0.28},{"w":7299,"f":-0.01},{"w":7303,"f":-0.05},{"w":7307,"f":-0.01},{"w":7311,"f":0.02},{"w":7316,"f":0.10},{"w":7320,"f":-0.10},{"w":7325,"f":-0.33},{"w":7330,"f":-0.08},{"w":7334,"f":0},{"w":7338,"f":0.28},{"w":7343,"f":-0.01},{"w":7348,"f":0.10},{"w":7354,"f":-0.13},{"w":7359,"f":0.22},{"w":7364,"f":-0.17},{"w":7368,"f":0.05},{"w":7372,"f":-0.03},{"w":7376,"f":0},{"w":7381,"f":-0.18},{"w":7385,"f":0},{"w":7389,"f":0.19},{"w":7394,"f":0.17},{"w":7399,"f":0.50},{"w":7405,"f":-0.20},{"w":7410,"f":-0.01},{"w":7414,"f":0.05},{"w":7418,"f":-0.12},{"w":7422,"f":-0.01},{"w":7425,"f":0.16},{"w":7429,"f":0.19},{"w":7433,"f":0.20},{"w":7438,"f":-0.20},{"w":7442,"f":-0.01},{"w":7448,"f":0.10},{"w":7453,"f":0.10},{"w":7457,"f":0.07},{"w":7461,"f":-0.08},{"w":7465,"f":-0.07},{"w":7470,"f":-0.23},{"w":7476,"f":-0.37},
{"w":7484,"f":-0.05},{"w":7488,"f":-0.13},{"w":7492,"f":-0.05},{"w":7496,"f":-0.11},{"w":7500,"f":-0.04},{"w":7505,"f":0.14},{"w":7509,"f":0},{"w":7513,"f":-0.18},{"w":7516,"f":-0.08},{"w":7520,"f":-0.08},{"w":7524,"f":-0.15},{"w":7528,"f":-0.16},{"w":7532,"f":0.12},{"w":7536,"f":-0.08},{"w":7540,"f":-0.19},{"w":7544,"f":-0.05},{"w":7548,"f":0.05},{"w":7552,"f":-0.13},{"w":7557,"f":-0.40},{"w":7561,"f":-0.12},{"w":7565,"f":-0.11},{"w":7569,"f":0.10},{"w":7574,"f":-0.17},{"w":7578,"f":0.07},{"w":7582,"f":0.05},{"w":7586,"f":-0.06},{"w":7590,"f":-0.07},{"w":7595,"f":-0.27},{"w":7600,"f":-0.54},{"w":7605,"f":-0.47},{"w":7610,"f":0.28},{"w":7616,"f":-0.22},{"w":7620,"f":-0.11},{"w":7624,"f":0.08},{"w":7627,"f":-0.17},{"w":7631,"f":0.06},{"w":7635,"f":-0.20},{"w":7639,"f":0.22},{"w":7643,"f":0.05},{"w":7646,"f":-0.34},{"w":7650,"f":0.12},{"w":7654,"f":-0.05},{"w":7656,"f":0.12},{"w":7660,"f":0.22},{"w":7664,"f":-0.12},{"w":7668,"f":-0.14},{"w":7673,"f":-0.19},{"w":7677,"f":-0.12},{"w":7681,"f":0.05},{"w":7685,"f":-0.05},{"w":7689,"f":0.11},{"w":7693,"f":0.10},{"w":7697,"f":-0.13},{"w":7702,"f":0.14},{"w":7706,"f":0.14},{"w":7710,"f":0},{"w":7714,"f":0.41},{"w":7717,"f":-0.12},{"w":7721,"f":-0.22},{"w":7725,"f":-0.05},{"w":7729,"f":0.06},{"w":7733,"f":0.07},{"w":7738,"f":0.07},{"w":7742,"f":-0.20},{"w":7746,"f":0.20},{"w":7750,"f":-0.31},{"w":7754,"f":0.08},{"w":7758,"f":0.35},{"w":7762,"f":-0.02},{"w":7766,"f":0.10},{"w":7770,"f":0.14},{"w":7774,"f":0.04},{"w":7778,"f":0.12},{"w":7781,"f":0.12},{"w":7785,"f":0.08},{"w":7789,"f":0.01},{"w":7793,"f":-0.21},{"w":7797,"f":0.08},{"w":7801,"f":0.28},{"w":7805,"f":0.19},{"w":7809,"f":0.17},{"w":7813,"f":0.22},{"w":7817,"f":0.16},{"w":7821,"f":0.18},{"w":7824,"f":0.05},{"w":7828,"f":-0.02},{"w":7832,"f":-0.25},{"w":7838,"f":-0.08},{"w":7841,"f":-0.01},{"w":7845,"f":-0.01},{"w":7851,"f":0.51},{"w":7854,"f":0.34},{"w":7858,"f":0.22},{"w":7862,"f":0.10},{"w":7866,"f":-0.35},{"w":7870,"f":0.07},{"w":7874,"f":0.04},{"w":7878,"f":0.08},{"w":7882,"f":0.08},{"w":7886,"f":-0.02},{"w":7890,"f":0.37},{"w":7894,"f":-0.05},{"w":7898,"f":0.05},{"w":7901,"f":0.16},{"w":7905,"f":-0.13},{"w":7909,"f":-0.06},{"w":7913,"f":0.05},{"w":7917,"f":0.51},{"w":7922,"f":0.07},{"w":7926,"f":0.08},{"w":7930,"f":0.41},{"w":7934,"f":0.22},{"w":7938,"f":0.18},{"w":7942,"f":0.19},{"w":7946,"f":-0.14},{"w":7950,"f":-0.02},{"w":7954,"f":-0.06},{"w":7958,"f":-0.10},{"w":7961,"f":-0.26},{"w":7965,"f":0.05},{"w":7969,"f":0.12},{"w":7973,"f":0.11},{"w":7977,"f":0.37},{"w":7981,"f":0.10},{"w":7985,"f":0.07},{"w":7989,"f":-0.10},{"w":7993,"f":0.36},{"w":7997,"f":-0.10},{"w":8001,"f":-0.05},{"w":8005,"f":-0.11},{"w":8008,"f":-0.02},{"w":8012,"f":-0.08},{"w":8016,"f":0.10},{"w":8020,"f":0.12},{"w":8024,"f":0.43},{"w":8028,"f":-0.02},{"w":8032,"f":0.07},{"w":8036,"f":-0.10},{"w":8040,"f":0.13},{"w":8044,"f":0.12},{"w":8048,"f":0},{"w":8052,"f":-0.02},{"w":8055,"f":-0.05},{"w":8058,"f":-0.59},{"w":8062,"f":0.02},{"w":8065,"f":-0.12},{"w":8069,"f":0.03},{"w":8072,"f":0.07},{"w":8076,"f":-0.05},{"w":8080,"f":-0.02},{"w":8084,"f":-0.13},{"w":8088,"f":-0.12},{"w":8092,"f":-0.22},{"w":8097,"f":-0.27},{"w":8100,"f":-0.12},{"w":8104,"f":0.10},{"w":8108,"f":-0.22},{"w":8112,"f":-0.16},{"w":8115,"f":-0.05},{"w":8119,"f":0.01},{"w":8123,"f":0.08},{"w":8127,"f":-0.14},{"w":8131,"f":0},{"w":8135,"f":-0.05},{"w":8139,"f":-0.07},{"w":8143,"f":0},{"w":8147,"f":-0.07},{"w":8151,"f":-0.01},{"w":8155,"f":-0.05},{"w":8159,"f":-0.12},{"w":8162,"f":-0.01},{"w":8166,"f":0.10},{"w":8170,"f":0.01},{"w":8174,"f":0.04},{"w":8178,"f":0.17},{"w":8182,"f":0.23},{"w":8186,"f":-0.01},{"w":8190,"f":0.07},{"w":8194,"f":-0.02},{"w":8198,"f":-0.13},{"w":8202,"f":-0.15},{"w":8206,"f":-0.02},{"w":8209,"f":-0.02},{"w":8213,"f":0.05},{"w":8217,"f":0.10},{"w":8221,"f":-0.05},{"w":8226,"f":-0.23},{"w":8230,"f":0.07},{"w":8236,"f":0.18},{"w":8239,"f":0},{"w":8243,"f":-0.10},{"w":8247,"f":-0.22},{"w":8253,"f":0.04},{"w":8256,"f":0.19},{"w":8260,"f":-0.12},{"w":8264,"f":-0.22},{"w":8269,"f":0.04},{"w":8273,"f":0.10},{"w":8277,"f":0.36},{"w":8283,"f":0.39},{"w":8286,"f":0.67},{"w":8290,"f":0.40},{"w":8296,"f":-0.34},{"w":8299,"f":-0.05},{"w":8303,"f":0.16},{"w":8307,"f":-0.13},{"w":8311,"f":0.12},{"w":8315,"f":0.07},{"w":8319,"f":-0.10},{"w":8323,"f":0.17},{"w":8327,"f":-0.21},{"w":8331,"f":-0.02},{"w":8335,"f":-0.14},{"w":8339,"f":-0.07},{"w":8343,"f":-0.16},{"w":8346,"f":-0.14},{"w":8350,"f":0.40},{"w":8354,"f":0.41},{"w":8358,"f":0.02},{"w":8362,"f":-0.32},{"w":8366,"f":-0.12},{"w":8370,"f":-0.02},{"w":8374,"f":0.05},{"w":8378,"f":0.40},
{"w":8380,"f":0.19},{"w":8384,"f":0.04},{"w":8388,"f":0.04},{"w":8392,"f":-0.11},{"w":8397,"f":0.52},{"w":8401,"f":0.05},{"w":8405,"f":0.12},{"w":8409,"f":0.05},{"w":8413,"f":0.20},{"w":8417,"f":-0.02},{"w":8421,"f":-0.01},{"w":8424,"f":0.23},{"w":8428,"f":0.07},{"w":8432,"f":-0.14},{"w":8436,"f":-0.07},{"w":8440,"f":0.10},{"w":8444,"f":0.14},{"w":8448,"f":0.37},{"w":8452,"f":-0.06},{"w":8456,"f":0.27},{"w":8460,"f":0.58},{"w":8464,"f":0.37},{"w":8468,"f":0},{"w":8473,"f":-0.08},{"w":8478,"f":-0.23},{"w":8482,"f":-0.02},{"w":8486,"f":-0.15},{"w":8490,"f":-0.02},{"w":8494,"f":0.32},{"w":8499,"f":-0.26},{"w":8503,"f":-0.02},{"w":8505,"f":0.14},{"w":8509,"f":0.04},{"w":8513,"f":0.07},{"w":8517,"f":0.02},{"w":8521,"f":0.08},{"w":8524,"f":0.33},{"w":8528,"f":0.07},{"w":8531,"f":0.07},{"w":8535,"f":0.05},{"w":8539,"f":-0.05},{"w":8545,"f":-0.30},{"w":8548,"f":0.01},{"w":8554,"f":0.26},{"w":8558,"f":0.12},{"w":8562,"f":0.01},{"w":8565,"f":0},{"w":8569,"f":0.06},{"w":8575,"f":0.15},{"w":8580,"f":0.27},{"w":8584,"f":0.15},{"w":8588,"f":0.02},{"w":8592,"f":0.14},{"w":8595,"f":0.06},{"w":8599,"f":0},{"w":8603,"f":-0.23},{"w":8609,"f":-0.31},{"w":8612,"f":-0.12},{"w":8616,"f":0.39},{"w":8620,"f":0.16},{"w":8624,"f":0.68},{"w":8628,"f":0.24},{"w":8632,"f":-0.11},{"w":8636,"f":-0.33},{"w":8641,"f":0.05},{"w":8645,"f":-0.23},{"w":8649,"f":0},{"w":8653,"f":0.07},{"w":8655,"f":0.33},{"w":8659,"f":0.70},{"w":8663,"f":0.45},{"w":8667,"f":0.16},{"w":8671,"f":-0.19},{"w":8676,"f":0.18},{"w":8680,"f":-0.25},{"w":8684,"f":-0.01},{"w":8688,"f":-0.08},{"w":8692,"f":0.05},{"w":8696,"f":0.13},{"w":8700,"f":0.21},{"w":8704,"f":0.14},{"w":8708,"f":-0.06},{"w":8712,"f":-0.07},{"w":8714,"f":-0.13},{"w":8718,"f":0.20},{"w":8722,"f":-0.01},{"w":8726,"f":0.20},{"w":8730,"f":0.07},{"w":8732,"f":0.20},{"w":8736,"f":0.07},{"w":8740,"f":0.19},{"w":8744,"f":0.26},{"w":8748,"f":0.17},{"w":8752,"f":0.07},{"w":8756,"f":0.73},{"w":8760,"f":0.40},{"w":8764,"f":0.89},{"w":8768,"f":0.58},{"w":8770,"f":-0.30},{"w":8774,"f":0.57},{"w":8778,"f":0.36},{"w":8782,"f":0.07},{"w":8785,"f":0.36},{"w":8789,"f":0.53},{"w":8793,"f":0.04},{"w":8796,"f":0.20},{"w":8802,"f":0.28},{"w":8806,"f":0.57},{"w":8810,"f":0.17},{"w":8813,"f":0.16},{"w":8817,"f":0.33},{"w":8821,"f":0.33},{"w":8825,"f":0.33},{"w":8828,"f":0.23},{"w":8830,"f":0.30},{"w":8834,"f":0.69},{"w":8838,"f":0.13},{"w":8842,"f":0.10},{"w":8846,"f":0.42},{"w":8849,"f":0.36},{"w":8854,"f":0.02},{"w":8858,"f":0.04},{"w":8862,"f":-0.31},{"w":8866,"f":0.28},{"w":8868,"f":-0.05},{"w":8872,"f":-0.10},{"w":8876,"f":0.19},{"w":8880,"f":-0.09},{"w":8883,"f":-0.20},{"w":8886,"f":0.13},{"w":8890,"f":0.29},{"w":8894,"f":0.19},{"w":8898,"f":0.17},{"w":8901,"f":0.80},{"w":8905,"f":0.04},{"w":8909,"f":0.34},{"w":8913,"f":0.23},{"w":8916,"f":0.93},{"w":8920,"f":0.30},{"w":8924,"f":0.27},{"w":8928,"f":0.27},{"w":8932,"f":0.26},{"w":8936,"f":-0.43},{"w":8940,"f":0.27},{"w":8944,"f":0.32},{"w":8948,"f":0.07},{"w":8952,"f":0.23},{"w":8956,"f":0.86},{"w":8960,"f":0.12},{"w":8963,"f":0.39},{"w":8967,"f":0.42},{"w":8971,"f":-0.02},{"w":8975,"f":0.48},{"w":8979,"f":0.16},{"w":8983,"f":0.16},{"w":8987,"f":-0.02},{"w":8991,"f":0.15},{"w":8995,"f":-0.36},{"w":8999,"f":0.32},{"w":9003,"f":0.11},{"w":9007,"f":0.27},{"w":9010,"f":0.17},{"w":9014,"f":-0.12},{"w":9018,"f":0.15},{"w":9022,"f":-0.02},{"w":9026,"f":0.03},{"w":9030,"f":0.27},{"w":9034,"f":0.84},{"w":9038,"f":0.25},{"w":9042,"f":-0.46},{"w":9046,"f":0.61},{"w":9050,"f":0.20},{"w":9054,"f":0.28},{"w":9057,"f":0.29},{"w":9061,"f":0.27},{"w":9065,"f":0.04},{"w":9069,"f":0.17},{"w":9073,"f":0.02},{"w":9077,"f":0.01},{"w":9081,"f":-0.01},{"w":9085,"f":-0.02},{"w":9089,"f":-0.27},{"w":9093,"f":-0.02},{"w":9097,"f":0.12},{"w":9100,"f":0.29},{"w":9104,"f":-0.12},{"w":9108,"f":0.16},{"w":9112,"f":0.16},{"w":9116,"f":0.06},{"w":9120,"f":-0.05},{"w":9124,"f":0.19},{"w":9128,"f":0.04},{"w":9132,"f":-0.24},{"w":9136,"f":0.12},{"w":9140,"f":0.11},{"w":9144,"f":-0.05},{"w":9147,"f":0.33},{"w":9151,"f":0.31},{"w":9155,"f":0.05},{"w":9159,"f":-0.06},{"w":9163,"f":0.07},{"w":9167,"f":-0.05},{"w":9171,"f":0.10},{"w":9175,"f":-0.13},{"w":9179,"f":0.05},{"w":9184,"f":-0.05},{"w":9188,"f":-0.09},{"w":9192,"f":-0.12},{"w":9197,"f":-0.23},{"w":9201,"f":0.04},{"w":9205,"f":0.05},{"w":9209,"f":0.15},{"w":9213,"f":0.14},{"w":9217,"f":0.27},{"w":9221,"f":0.25},{"w":9224,"f":0.14},{"w":9228,"f":0.22},{"w":9232,"f":-0.02},{"w":9239,"f":-0.37},{"w":9244,"f":0.15},{"w":9248,"f":0.07},{"w":9251,"f":0},{"w":9254,"f":0.08},{"w":9258,"f":0.16},{"w":9262,"f":0.17},{"w":9266,"f":-0.02},{"w":9270,"f":0.11},{"w":9274,"f":0},{"w":9277,"f":-0.09},{"w":9281,"f":-0.19},{"w":9284,"f":-0.12},{"w":9288,"f":-0.05},{"w":9292,"f":-0.29},{"w":9296,"f":-0.14},{"w":9299,"f":-0.29}
]
},
"layer":[
{"data":{"name":"err"},"mark":{"type":"line","color":"#008000","strokeWidth":1.3,"clip":true}},
{"data":{"name":"model"},"mark":{"type":"line","color":"#0000ff","strokeWidth":5,"clip":true}},
{"data":{"name":"flux"},"mark":{"type":"line","color":"black","strokeWidth":3.8,"clip":true}}
]
}
